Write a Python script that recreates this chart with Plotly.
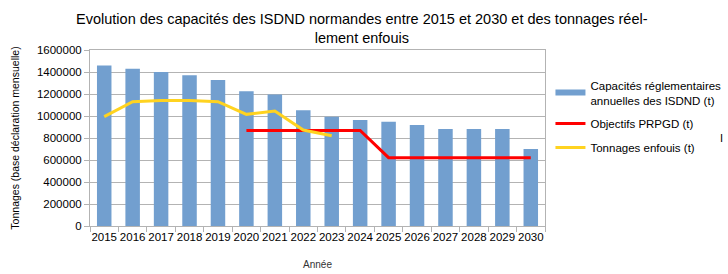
import plotly.graph_objects as go

years = [str(y) for y in range(2015, 2031)]
capacites = [1460000, 1430000, 1400000, 1370000, 1327000, 1225000, 1195000, 1052000,
             994000, 964000, 948000, 918000, 882000, 882000, 882000, 700000]
objectifs_years = [str(y) for y in range(2020, 2031)]
objectifs = [868000, 868000, 868000, 868000, 868000, 621000, 621000, 621000, 621000, 621000, 621000]
tonnages_years = [str(y) for y in range(2015, 2024)]
tonnages = [994000, 1130000, 1140000, 1140000, 1130000, 1015000, 1045000, 873000, 821000]

FONT = "Liberation Sans, Arial, sans-serif"
BLUE = "#729fcf"
CAP_NAME = "Capacités réglementaires<br>annuelles des ISDND (t)"

fig = go.Figure()
fig.add_trace(go.Bar(x=years, y=capacites, name=CAP_NAME, showlegend=False,
                     marker=dict(color=BLUE, line=dict(width=0))))
# legend-only swatch for the bar series (wide rectangle like the reference)
fig.add_trace(go.Scatter(x=[None], y=[None], name=CAP_NAME, mode="lines", legendgroup="a",
                         line=dict(color=BLUE, width=6)))
fig.add_trace(go.Scatter(x=objectifs_years, y=objectifs, name="Objectifs PRPGD (t)", mode="lines",
                         legendgroup="b", line=dict(color="#ff0000", width=3)))
fig.add_trace(go.Scatter(x=tonnages_years, y=tonnages, name="Tonnages enfouis (t)", mode="lines",
                         legendgroup="c", line=dict(color="#ffd320", width=3)))

fig.update_layout(
    width=728, height=274,
    margin=dict(l=90, r=183, t=50, b=48, autoexpand=False),
    paper_bgcolor="white", plot_bgcolor="white",
    font=dict(family=FONT, size=12, color="#000000"),
    title=dict(text="Evolution des capacités des ISDND normandes entre 2015 et 2030 et des tonnages réel-<br>lement enfouis",
               x=0.497, xanchor="center", xref="container", y=1 - 24 / 274, yref="container", yanchor="top",
               font=dict(family=FONT, size=14.5, color="#000000")),
    bargap=0.49,
    showlegend=True,
    legend=dict(x=1.012, xanchor="left", y=0.88, yanchor="top",
                font=dict(family=FONT, size=11.5, color="#000000"),
                tracegroupgap=5, itemwidth=30, bgcolor="rgba(0,0,0,0)"),
    xaxis=dict(type="category", showgrid=False, showline=True, linecolor="#b3b3b3", linewidth=1,
               mirror=True, ticks="outside", ticklen=5, tickcolor="#b3b3b3", tickangle=0,
               automargin=False,
               tickson="boundaries", tickfont=dict(family=FONT, size=11.5, color="#000000"),
               title=dict(text="Année", font=dict(family=FONT, size=10, color="#333333"), standoff=19)),
    yaxis=dict(range=[0, 1600000], dtick=200000, showgrid=True, gridcolor="#b3b3b3", gridwidth=1,
               showline=True, linecolor="#b3b3b3", mirror=True, ticks="outside", ticklen=5,
               tickcolor="#b3b3b3", tickformat="d", automargin=False,
               tickfont=dict(family=FONT, size=11.5, color="#000000"), zeroline=False,
               title=dict(text="Tonnages (base déclaration mensuelle)",
                          font=dict(family=FONT, size=10.5, color="#000000"), standoff=15)),
)
fig.add_annotation(text="I", xref="paper", yref="paper", x=(725 - 90) / 455, y=(226 - 138) / 176,
                   showarrow=False, font=dict(family=FONT, size=11, color="#000000"))

fig.write_html("out.html")
